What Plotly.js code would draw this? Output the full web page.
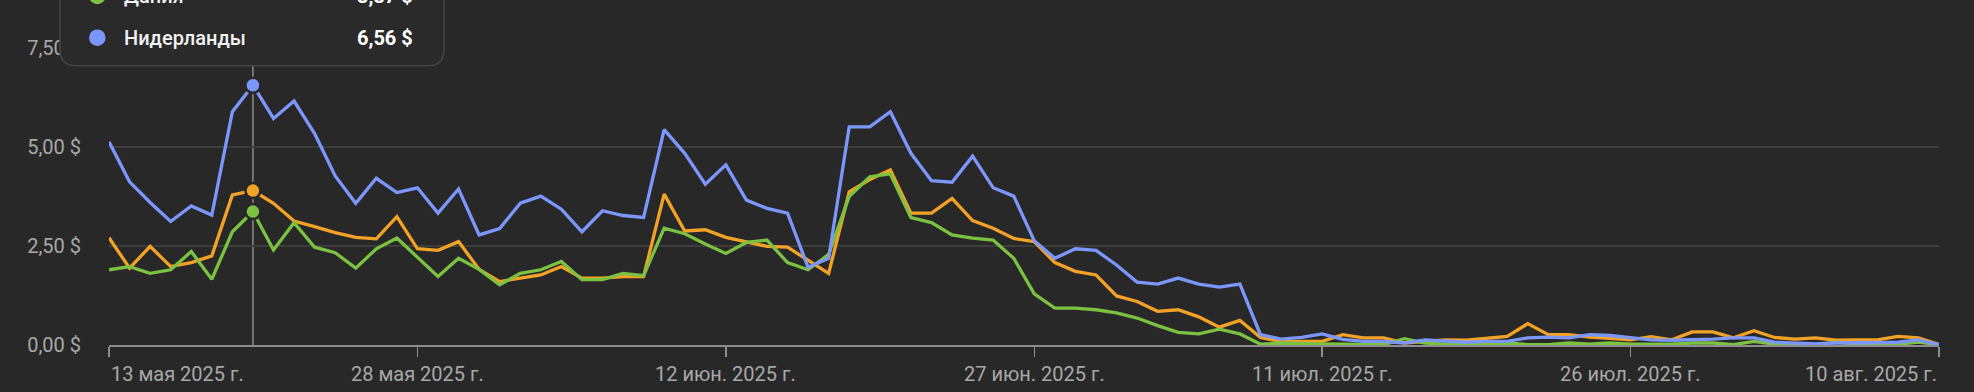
<!DOCTYPE html>
<html>
<head>
<meta charset="utf-8">
<script src="https://cdn.plot.ly/plotly-3.0.1.min.js"></script>
<style>
  html, body { margin: 0; padding: 0; background: #282828; }
  #chart { width: 1974px; height: 392px; }
</style>
</head>
<body>
<div id="chart"></div>
<script>
// ---- Data ----
const startDate = "2025-05-13";
const dayCount = 90;

const seriesNames = ["Нидерланды", "Дания", "Другая страна"];

const netherlands = [
  5.13, 4.12, 3.60, 3.12, 3.51, 3.28, 5.89, 6.56, 5.72, 6.16,
  5.34, 4.27, 3.58, 4.21, 3.85, 3.97, 3.33, 3.94, 2.78, 2.94,
  3.58, 3.76, 3.43, 2.86, 3.39, 3.27, 3.22, 5.44, 4.84, 4.06,
  4.55, 3.66, 3.45, 3.33, 1.96, 2.19, 5.51, 5.51, 5.89, 4.84,
  4.15, 4.11, 4.77, 3.97, 3.76, 2.63, 2.19, 2.43, 2.39, 2.02,
  1.59, 1.54, 1.69, 1.54, 1.46, 1.54, 0.26, 0.15, 0.19, 0.28,
  0.14, 0.09, 0.09, 0.05, 0.13, 0.09, 0.07, 0.09, 0.09, 0.18,
  0.20, 0.18, 0.26, 0.24, 0.18, 0.13, 0.12, 0.13, 0.15, 0.18,
  0.18, 0.07, 0.05, 0.03, 0.05, 0.05, 0.05, 0.07, 0.13, 0.01
];

const otherCountry = [
  2.71, 1.94, 2.49, 1.98, 2.08, 2.25, 3.79, 3.90, 3.58, 3.13,
  2.99, 2.84, 2.72, 2.68, 3.24, 2.43, 2.39, 2.61, 1.91, 1.60,
  1.69, 1.77, 1.98, 1.69, 1.69, 1.73, 1.73, 3.81, 2.88, 2.91,
  2.72, 2.61, 2.49, 2.47, 2.13, 1.81, 3.87, 4.18, 4.42, 3.33,
  3.33, 3.70, 3.14, 2.95, 2.69, 2.61, 2.08, 1.86, 1.77, 1.24,
  1.10, 0.85, 0.89, 0.71, 0.45, 0.62, 0.19, 0.09, 0.09, 0.09,
  0.26, 0.18, 0.18, 0.05, 0.09, 0.13, 0.12, 0.18, 0.22, 0.54,
  0.26, 0.26, 0.20, 0.17, 0.13, 0.21, 0.13, 0.33, 0.33, 0.18,
  0.36, 0.19, 0.15, 0.18, 0.12, 0.13, 0.13, 0.22, 0.18, 0.01
];

const denmark = [
  1.90, 1.98, 1.81, 1.90, 2.36, 1.66, 2.86, 3.37, 2.40, 3.09,
  2.47, 2.33, 1.94, 2.43, 2.70, 2.22, 1.73, 2.19, 1.91, 1.52,
  1.81, 1.90, 2.11, 1.65, 1.65, 1.81, 1.75, 2.95, 2.81, 2.55,
  2.31, 2.59, 2.65, 2.08, 1.90, 2.29, 3.75, 4.25, 4.32, 3.22,
  3.09, 2.78, 2.70, 2.65, 2.19, 1.29, 0.93, 0.93, 0.89, 0.81,
  0.68, 0.49, 0.32, 0.28, 0.40, 0.28, 0.02, 0.05, 0.03, 0.03,
  0.02, 0.01, 0.01, 0.16, 0.05, 0.02, 0.01, 0.02, 0.05, 0.01,
  0.01, 0.05, 0.02, 0.05, 0.02, 0.01, 0.02, 0.05, 0.05, 0.01,
  0.09, 0.02, 0.02, 0.01, 0.07, 0.02, 0.02, 0.02, 0.07, 0.01
];

const xTickDates = ["2025-05-13", "2025-05-28", "2025-06-12", "2025-06-27", "2025-07-11", "2025-07-26", "2025-08-10"];
const xTickLabels = ["13 мая 2025 г.", "28 мая 2025 г.", "12 июн. 2025 г.", "27 июн. 2025 г.", "11 июл. 2025 г.", "26 июл. 2025 г.", "10 авг. 2025 г."];
const yTickValues = [0, 2.5, 5, 7.5];
const yTickLabels = ["0,00 $", "2,50 $", "5,00 $", "7,50 $"];

const hoverIndex = 7;

// ---- Styles ----
const BG = "#282828";
const C_NL = "#7c97fb";
const C_DK = "#7bc142";
const C_OT = "#f2a226";
const GRID = "#3d3d3d";
const AXIS = "#8d8d8d";
const TXT = "#a8a8a8";
const FONT = "Roboto, 'Noto Sans', sans-serif";

// date sequence (x domain)
const dates = [];
{
  const d0 = new Date(startDate + "T00:00:00Z");
  for (let i = 0; i < dayCount; i++) {
    const d = new Date(d0.getTime() + i * 86400000);
    dates.push(d.toISOString().slice(0, 10));
  }
}

const W = 1974, H = 392;
const M = { l: 109, r: 35, t: 48, b: 47 };
const PW = W - M.l - M.r, PH = H - M.t - M.b;
const px = v => (v - M.l) / PW;          // pixel x -> paper
const py = v => (H - M.b - v) / PH;      // pixel y -> paper

function fmt(v) { return v.toFixed(2).replace(".", ",") + " $"; }

const LW = 3.3;
const traces = [
  { x: dates, y: otherCountry, name: seriesNames[2], type: "scatter", mode: "lines",
    line: { color: C_OT, width: LW }, hoverinfo: "skip" },
  { x: dates, y: denmark, name: seriesNames[1], type: "scatter", mode: "lines",
    line: { color: C_DK, width: LW }, hoverinfo: "skip" },
  { x: dates, y: netherlands, name: seriesNames[0], type: "scatter", mode: "lines",
    line: { color: C_NL, width: LW }, hoverinfo: "skip" },
  { x: [dates[hoverIndex], dates[hoverIndex], dates[hoverIndex]],
    y: [otherCountry[hoverIndex], denmark[hoverIndex], netherlands[hoverIndex]],
    type: "scatter", mode: "markers", cliponaxis: false, hoverinfo: "skip",
    marker: { size: 15, color: [C_OT, C_DK, C_NL], line: { color: BG, width: 2.5 } } }
];

// tooltip box (rounded bottom corners, top cut off by page edge)
const tx0 = px(60), tx1 = px(444), tyb = py(65.7), tyt = py(-90);
const rx = 16 / PW, ry = 16 / PH;
const tipPath = `M ${tx0},${tyt} L ${tx0},${tyb + ry} Q ${tx0},${tyb} ${tx0 + rx},${tyb} ` +
  `L ${tx1 - rx},${tyb} Q ${tx1},${tyb} ${tx1},${tyb + ry} L ${tx1},${tyt} Z`;

const rows = [
  { name: seriesNames[1], value: denmark[hoverIndex], color: C_DK, yPix: -4 },
  { name: seriesNames[0], value: netherlands[hoverIndex], color: C_NL, yPix: 37.7 }
];

const shapes = [
  { type: "line", xref: "x", yref: "paper", x0: dates[hoverIndex], x1: dates[hoverIndex],
    y0: 0, y1: tyb, line: { color: AXIS, width: 1.5 }, layer: "below" },
  { type: "path", xref: "paper", yref: "paper", path: tipPath, fillcolor: "#2a2a2a",
    line: { color: "#444444", width: 1.5 }, layer: "above" }
];
rows.forEach(r => {
  shapes.push({ type: "circle", xref: "paper", yref: "paper",
    xsizemode: "pixel", ysizemode: "pixel", xanchor: px(97.3), yanchor: py(r.yPix),
    x0: -8.3, x1: 8.3, y0: -8.3, y1: 8.3, fillcolor: r.color, line: { width: 0 }, layer: "above" });
});

const annotations = [];
rows.forEach(r => {
  annotations.push({ xref: "paper", yref: "paper", x: px(122), y: py(r.yPix), xanchor: "left", yanchor: "middle",
    text: r.name, showarrow: false, font: { family: FONT, size: 20, color: "#f1f1f1", weight: 500 } });
  annotations.push({ xref: "paper", yref: "paper", x: px(415), y: py(r.yPix), xanchor: "right", yanchor: "middle",
    text: fmt(r.value), showarrow: false, font: { family: FONT, size: 20, color: "#ffffff", weight: 700 } });
});
xTickDates.forEach((d, k) => {
  annotations.push({ xref: "x", yref: "paper", x: d, y: py(374), yanchor: "middle",
    xanchor: k === 0 ? "left" : (k === xTickDates.length - 1 ? "right" : "center"),
    text: xTickLabels[k], showarrow: false, font: { family: FONT, size: 20, color: TXT } });
});

const layout = {
  width: W, height: H,
  margin: M,
  paper_bgcolor: BG, plot_bgcolor: BG,
  showlegend: false,
  font: { family: FONT, size: 20, color: TXT },
  xaxis: {
    type: "date", range: [dates[0], dates[dates.length - 1]],
    showgrid: false, zeroline: false,
    showline: true, linecolor: AXIS, linewidth: 1.5,
    ticks: "outside", ticklen: 10, tickwidth: 1.5, tickcolor: AXIS,
    tickmode: "array", tickvals: xTickDates, showticklabels: false,
    fixedrange: true
  },
  yaxis: {
    range: [0, 7.5], tickmode: "array", tickvals: yTickValues, ticktext: yTickLabels,
    showgrid: true, gridcolor: GRID, gridwidth: 1.5,
    zeroline: false, showline: false, ticks: "",
    ticklabelstandoff: 27,
    tickfont: { family: FONT, size: 20, color: TXT },
    fixedrange: true
  },
  shapes: shapes,
  annotations: annotations
};

Plotly.newPlot("chart", traces, layout, { staticPlot: true, displayModeBar: false });
</script>
</body>
</html>
